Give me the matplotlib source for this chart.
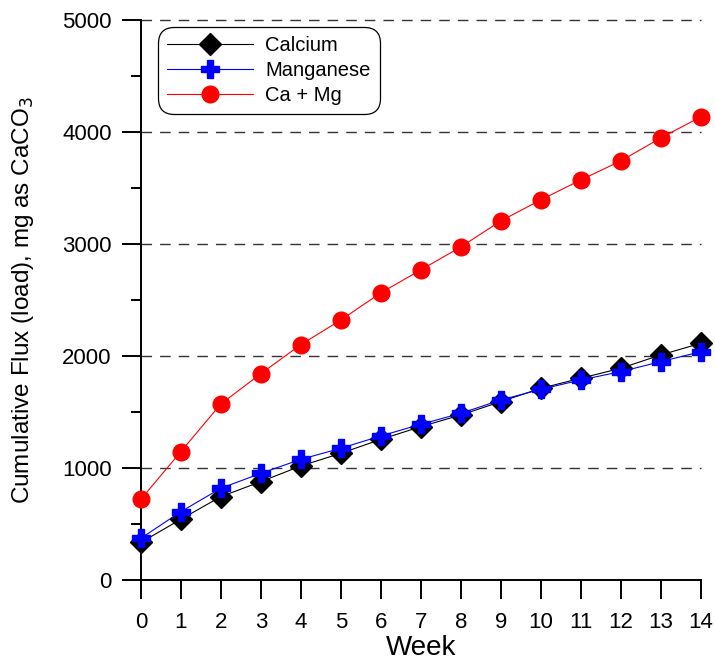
import matplotlib
matplotlib.use("Agg")
import matplotlib.pyplot as plt
from matplotlib.ticker import MultipleLocator

plt.rcParams['font.family'] = ['Liberation Sans', 'DejaVu Sans']
plt.rcParams['lines.scale_dashes'] = False

weeks = list(range(15))
calcium = [335, 542, 744, 878, 1018, 1131, 1255, 1369, 1473, 1592, 1711, 1801, 1890, 2009, 2113]
manganese = [372, 610, 819, 952, 1077, 1176, 1286, 1390, 1488, 1607, 1702, 1786, 1860, 1949, 2038]
ca_mg = [720, 1146, 1571, 1842, 2101, 2321, 2563, 2768, 2973, 3205, 3393, 3571, 3741, 3946, 4134]
grid_levels = [1000, 2000, 3000, 4000, 5000]

fig = plt.figure(figsize=(7.15, 6.64), dpi=100)
ax = fig.add_axes([0.197, 0.1265, 0.783, 0.8435])

ax.plot(weeks, calcium, color='black', lw=0.8, marker='D', ms=11, mfc='black', mec='black', label='Calcium', zorder=3)
ax.plot(weeks, manganese, color='blue', lw=0.8, marker='P', ms=13, mfc='blue', mec='blue', label='Manganese', zorder=4)
ax.plot(weeks, ca_mg, color='red', lw=0.8, marker='o', ms=12, mfc='red', mec='red', label='Ca + Mg', zorder=5)

ax.set_xlim(0, 14)
ax.set_ylim(0, 5000)
ax.set_xticks(weeks)
ax.yaxis.set_major_locator(MultipleLocator(1000))
ax.yaxis.set_minor_locator(MultipleLocator(500))
for y in grid_levels:
    ax.axhline(y, color='#333333', lw=1.0, ls=(0, (7.6, 5.8)), zorder=1)

for s in ['top', 'right']:
    ax.spines[s].set_visible(False)
for s in ['left', 'bottom']:
    ax.spines[s].set_linewidth(1.4)

ax.tick_params(axis='both', which='major', direction='out', length=14, width=1.4, labelsize=16, pad=7)
ax.tick_params(axis='x', which='major', pad=9)
ax.tick_params(axis='y', which='minor', direction='out', length=7, width=1.4)
ax.tick_params(axis='x', which='minor', bottom=False)

for line in ax.lines:
    line.set_clip_on(False)

ax.set_xlabel('Week', fontsize=20)
ax.xaxis.set_label_coords(0.5, -0.098)
ax.set_ylabel('Cumulative Flux (load), mg as CaCO$_3$', fontsize=17.5)
ax.yaxis.set_label_coords(-0.188, 0.5)

leg = ax.legend(loc='upper left', bbox_to_anchor=(0.030, 0.9875), borderaxespad=0,
                fontsize=14.5, frameon=True, fancybox=True, edgecolor='black',
                framealpha=1, handlelength=4.3, borderpad=0.45, labelspacing=0.3,
                handletextpad=0.6)
leg.get_frame().set_linewidth(0.9)
leg.get_frame().set_boxstyle('round', pad=0, rounding_size=0.8)

fig.savefig('out.png', dpi=100)
